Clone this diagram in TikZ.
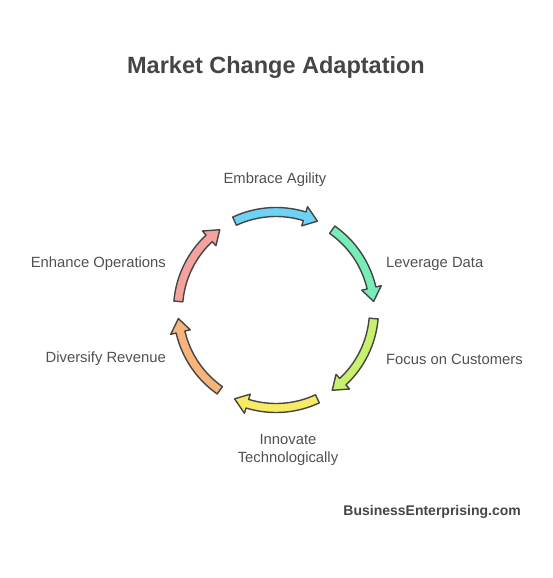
\documentclass[tikz,border=0pt]{standalone}
\usepackage{fontspec}
\setmainfont{Liberation Sans}
\usetikzlibrary{positioning}

\definecolor{inkgray}{HTML}{454545}
\definecolor{textgray}{HTML}{505050}
\definecolor{agilityblue}{HTML}{6DD3F5}
\definecolor{datagreen}{HTML}{78EDB8}
\definecolor{customerlime}{HTML}{C8F06E}
\definecolor{innovateyellow}{HTML}{F8EA64}
\definecolor{revenueorange}{HTML}{F8B47A}
\definecolor{operationspink}{HTML}{F4A29E}

\begin{document}
\begin{tikzpicture}[
      x=1pt, y=1pt,
      title/.style={font=\fontsize{23.5}{28}\selectfont\bfseries, text=inkgray},
      steplabel/.style={font=\fontsize{14.8}{18}\selectfont, text=textgray, inner sep=0pt},
      brand/.style={font=\fontsize{14}{16}\selectfont\bfseries, text=inkgray, inner sep=0pt},
      cyclearrow/.style={draw=inkgray, line width=1.4pt, line join=round}
  ]
      \useasboundingbox (0,0) rectangle (552,578);

      \coordinate (hub) at (276,268);

      \node (heading) [title] at (276,511) {Market Change Adaptation};

      % the six curved arrows, clockwise from the top
      \foreach \mid/\shade in {90/agilityblue, 30/datagreen, -30/customerlime,
                               -90/innovateyellow, -150/revenueorange, 150/operationspink}
      {
          \pgfmathsetmacro{\from}{\mid+25}
          \pgfmathsetmacro{\to}{\mid-25}
          \pgfmathsetmacro{\neck}{\mid-17}
          \draw [cyclearrow, fill=\shade]
              ([shift={(\from:102.5)}]hub) arc[start angle=\from, end angle=\neck, radius=102.5]
              -- ([shift={(\neck:108)}]hub)
              -- ([shift={(\to:98)}]hub)
              -- ([shift={(\neck:88)}]hub)
              -- ([shift={(\neck:93.5)}]hub)
              arc[start angle=\neck, end angle=\from, radius=93.5] -- cycle;
      }

      \node (agility)    [steplabel] at (275,398) {Embrace Agility};
      \node (data)       [steplabel, anchor=west] at (386,314) {Leverage Data};
      \node (customers)  [steplabel, anchor=west] at (386,219) {Focus on Customers};
      \node (innovate)   [steplabel, align=center] at (288,128)
          {Innovate\\Technologically};
      \node (revenue)    [steplabel, anchor=east] at (166,219) {Diversify Revenue};
      \node (operations) [steplabel, anchor=east] at (166,314) {Enhance Operations};

      \node (site) [brand, anchor=east] at (521,66) {BusinessEnterprising.com};
  \end{tikzpicture}
\end{document}
